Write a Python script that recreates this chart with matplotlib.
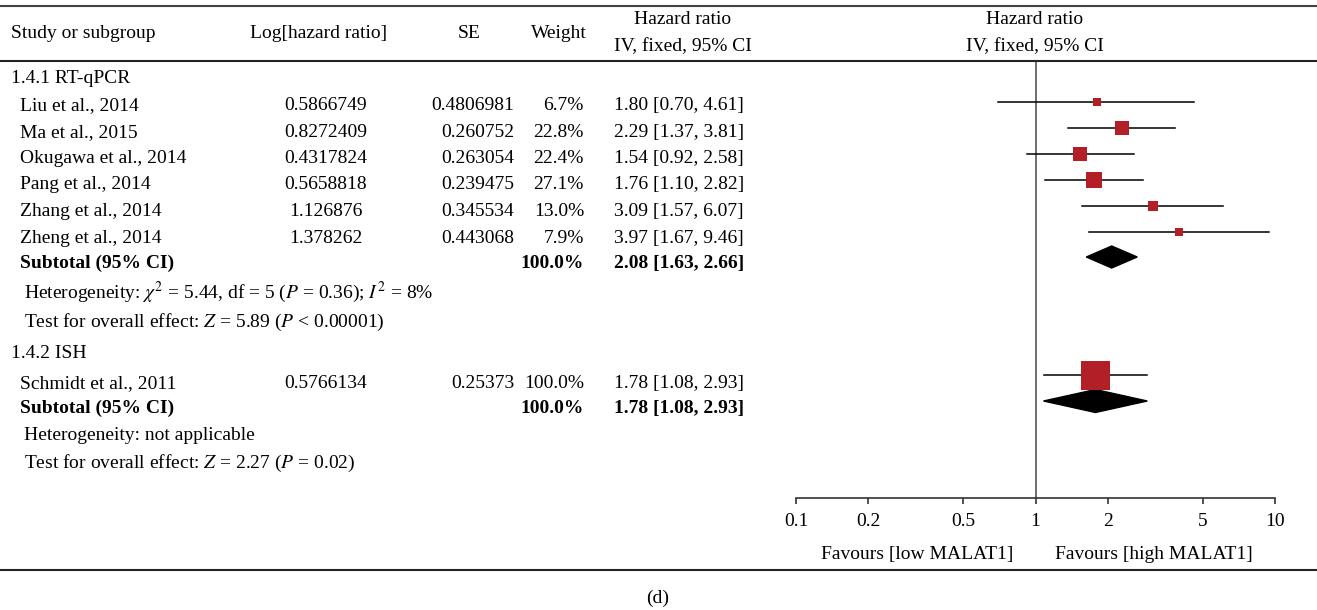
import numpy as np
import matplotlib.pyplot as plt
from matplotlib.patches import Polygon

plt.rcParams['font.family'] = ['Liberation Serif', 'DejaVu Serif']
plt.rcParams['mathtext.fontset'] = 'stix'

# data
studies_a = ['Liu et al., 2014', 'Ma et al., 2015', 'Okugawa et al., 2014',
             'Pang et al., 2014', 'Zhang et al., 2014', 'Zheng et al., 2014']
loghr_a = ['0.5866749', '0.8272409', '0.4317824', '0.5658818', '1.126876', '1.378262']
se_a = ['0.4806981', '0.260752', '0.263054', '0.239475', '0.345534', '0.443068']
weight_a = [6.7, 22.8, 22.4, 27.1, 13.0, 7.9]
hr_a = [1.80, 2.29, 1.54, 1.76, 3.09, 3.97]
lo_a = [0.70, 1.37, 0.92, 1.10, 1.57, 1.67]
hi_a = [4.61, 3.81, 2.58, 2.82, 6.07, 9.46]
sub_a = (2.08, 1.63, 2.66)

studies_b = ['Schmidt et al., 2011']
loghr_b = ['0.5766134']
se_b = ['0.25373']
weight_b = [100.0]
hr_b = [1.78]
lo_b = [1.08]
hi_b = [2.93]
sub_b = (1.78, 1.08, 2.93)

ticks = [0.1, 0.2, 0.5, 1, 2, 5, 10]
tick_labels = ['0.1', '0.2', '0.5', '1', '2', '5', '10']

W, H = 1317, 610
RED = '#b31f27'
FS = 14

fig = plt.figure(figsize=(W / 100, H / 100), dpi=100)
ax = fig.add_axes([0, 0, 1, 1])
ax.set_xlim(0, W)
ax.set_ylim(H, 0)
ax.axis('off')


def txt(x, y, s, ha='left', **kw):
    # y is the visual middle of the line; put the baseline a bit below it
    ax.text(x, y + 6, s, fontsize=FS, va='baseline', ha=ha, **kw)


# rules
ax.plot([0, W], [6, 6], color='#444', lw=1.5)
ax.plot([0, W], [61, 61], color='#222', lw=1.5)
ax.plot([0, W], [570, 570], color='#222', lw=1.5)

# header
txt(11, 32, 'Study or subgroup')
txt(319, 32, 'Log[hazard ratio]', ha='center')
txt(469, 32, 'SE', ha='center')
txt(559, 32, 'Weight', ha='center')
txt(683, 18, 'Hazard ratio', ha='center')
txt(683, 45, 'IV, fixed, 95% CI', ha='center')
txt(1035, 18, 'Hazard ratio', ha='center')
txt(1035, 45, 'IV, fixed, 95% CI', ha='center')


def table_rows(names, lhr, se, wt, hr, lo, hi, ys):
    for i, y in enumerate(ys):
        txt(20, y, names[i])
        txt(326, y, lhr[i], ha='center')
        txt(514, y, se[i], ha='right')
        txt(584, y, '%.1f%%' % wt[i], ha='right')
        txt(614, y, '%.2f [%.2f, %.2f]' % (hr[i], lo[i], hi[i]))


def subtotal(sub, wsum, y):
    txt(20, y, 'Subtotal (95% CI)', fontweight='bold')
    txt(584, y, '%.1f%%' % wsum, ha='right', fontweight='bold')
    txt(614, y, '%.2f [%.2f, %.2f]' % sub, fontweight='bold')


ys_a = [104, 131, 157, 183, 210, 237]
ys_b = [382]

txt(11, 77, '1.4.1 RT-qPCR')
table_rows(studies_a, loghr_a, se_a, weight_a, hr_a, lo_a, hi_a, ys_a)
subtotal(sub_a, 100.0, 262)
txt(24, 292, r'Heterogeneity: $\chi^2$ = 5.44, df = 5 ($P$ = 0.36); $I^2$ = 8%')
txt(24, 321, r'Test for overall effect: $Z$ = 5.89 ($P$ < 0.00001)')

txt(11, 352, '1.4.2 ISH')
table_rows(studies_b, loghr_b, se_b, weight_b, hr_b, lo_b, hi_b, ys_b)
subtotal(sub_b, 100.0, 407)
txt(24, 434, 'Heterogeneity: not applicable')
txt(24, 462, r'Test for overall effect: $Z$ = 2.27 ($P$ = 0.02)')

txt(1013, 553, 'Favours [low MALAT1]', ha='right')
txt(1055, 553, 'Favours [high MALAT1]')
txt(658, 597, '(d)', ha='center')

# forest plot
x0, x1 = 796, 1275
ytop, ybot = 62, 498
fax = fig.add_axes([x0 / W, 1 - ybot / H, (x1 - x0) / W, (ybot - ytop) / H])
fax.set_xscale('log')
fax.set_xlim(0.1, 10)
fax.set_ylim(ybot, ytop)
fax.patch.set_alpha(0)
for s in ['top', 'left', 'right']:
    fax.spines[s].set_visible(False)
fax.spines['bottom'].set_color('#333')
fax.spines['bottom'].set_linewidth(1.2)
fax.set_yticks([])
fax.set_xticks(ticks)
fax.set_xticklabels(tick_labels, fontsize=FS)
fax.minorticks_off()
fax.tick_params(axis='x', length=4, width=1.2, color='#333', pad=7)
fax.axvline(1, color='#555', lw=1.2)

mark_a = [102, 128, 154, 180, 206, 232]
mark_b = [375]


def forest_rows(hr, lo, hi, wt, ys):
    for i, y in enumerate(ys):
        fax.plot([lo[i], hi[i]], [y, y], color='black', lw=1.1)
        side = 2.9 * np.sqrt(wt[i]) * 0.72
        fax.plot(hr[i], y, marker='s', ms=side, color=RED, mec=RED, mew=0)


def diamond(sub, y, h):
    est, lo, hi = sub
    fax.add_patch(Polygon([[lo, y], [est, y - h / 2], [hi, y], [est, y + h / 2]],
                          closed=True, color='black'))


forest_rows(hr_a, lo_a, hi_a, weight_a, mark_a)
diamond(sub_a, 257, 22)
forest_rows(hr_b, lo_b, hi_b, weight_b, mark_b)
diamond(sub_b, 401, 23)

fig.savefig('out.png', dpi=100)
